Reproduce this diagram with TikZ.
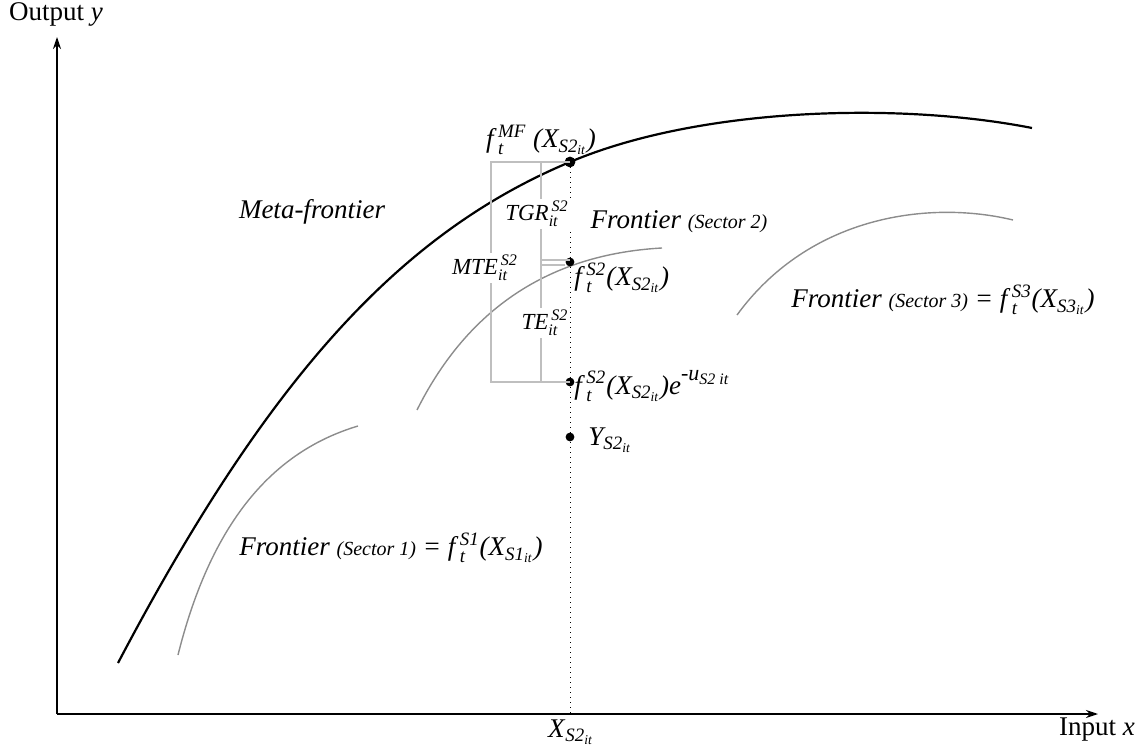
\documentclass[tikz,border=0pt]{standalone}
\usepackage{amsmath}
\usepackage{fontspec}
\setmainfont{Liberation Serif}
\usetikzlibrary{arrows.meta, positioning}
\tikzset{
  axis/.style={draw=black, line width=0.7pt, -{Stealth[length=6pt, width=4pt]}},
  meta/.style={draw=black, line width=1.1pt},
  sect/.style={draw=black!45, line width=0.7pt},
  brk/.style={draw=black!25, line width=0.8pt},
  dot/.style={circle, fill=black, inner sep=0pt, minimum size=4.4pt},
  lbl/.style={font=\fontsize{13.5}{16}\selectfont\itshape, inner sep=1pt},
  eff/.style={font=\fontsize{11.5}{13}\selectfont\itshape, fill=white, inner sep=1pt},
  ax/.style={font=\fontsize{13.5}{16}\selectfont, inner sep=0pt},
}
\newcommand{\sct}[1]{{\fontsize{10}{11}\selectfont(Sector #1)}}
\newcommand{\Xsub}[1]{\textit{X}$_{\text{\itshape S#1}_{\text{\itshape it}}}$}
\newcommand{\fsub}[1]{\textit{f}\,$^{\text{\itshape #1}}_{\text{\itshape t}}$}
\newcommand{\effsub}[1]{#1$^{\,\text{\itshape S2}}_{\text{\itshape it}}$}
\newcommand{\expu}{\textit{e}\raisebox{1.1ex}{\fontsize{11}{12}\selectfont -u\raisebox{-0.35ex}{\fontsize{8}{9}\selectfont S2 it}}}

\begin{document}
\begin{tikzpicture}[x=0.5pt, y=-0.5pt]
  \useasboundingbox (0,0) rectangle (1145,748);
  % axes
  \coordinate (orig) at (57,714);
  \coordinate (ytip) at (57,37);
  \coordinate (xtip) at (1098,714);
  \coordinate (xS2)  at (570,714);
  \draw[axis] (orig) -- (ytip);
  \draw[axis] (orig) -- (xtip);
  \node[ax] (ylab) at (56,14)   {Output \textit{y}};
  \node[ax] (xlab) at (1097,730) {Input \textit{x}};
  \node[ax,font=\fontsize{13.5}{16}\selectfont] (xval) at (571,732) {\Xsub{2}};
  % frontiers
  \draw[meta] (118,663) .. controls (268,378) and (400,233) .. (570,162)
                        .. controls (700,107) and (900,102) .. (1032,128);
  \draw[sect] (178,655) .. controls (213,515) and (278,450) .. (358,426);
  \draw[sect] (417,410) .. controls (477,290) and (572,253) .. (662,248);
  \draw[sect] (737,315) .. controls (810,215) and (930,200) .. (1013,220);
  % points on the vertical
  \node[dot, minimum size=5.4pt] (pMF) at (570,162) {};
  \node[dot] (pS2) at (570,262) {};
  \node[dot] (pE)  at (570,382) {};
  \node[dot] (pY)  at (570,437) {};
  \draw[dotted, line width=0.5pt] (pMF.center) -- (xS2);
  % brackets
  \coordinate (b1) at (541,260);
  \coordinate (b2) at (541,265);
  \draw[brk] (pMF.center) -- (491,162) -- (491,382) -- (pE.center);
  \draw[brk] (541,162) -- (541,382);
  \draw[brk] (b1) -- (b1 -| pS2.center);
  \draw[brk] (b2) -- (b2 -| pS2.west);
  \node[eff] (mte) at (485,268) {\effsub{MTE}};
  \node[eff] (tgr) at (537,214) {\effsub{TGR}};
  \node[eff] (te)  at (545,323) {\effsub{TE}};
  % labels
  \node[lbl] (fMF) at (541,140) {\fsub{MF} (\Xsub{2})};
  \node[lbl] (meta) at (312,212) {Meta-frontier};
  \node[lbl] (fr2) at (679,222) {Frontier \sct{2}};
  \node[lbl, anchor=west] (fS2) at (572,278) {\fsub{S2}(\Xsub{2})};
  \node[lbl, anchor=west] (fE)  at (572,386) {\fsub{S2}(\Xsub{2})\expu};
  \node[lbl, anchor=west] (yS2) at (586,440) {\textit{Y}$_{\text{\itshape S2}_{\text{\itshape it}}}$};
  \node[lbl] (fr1) at (391,548) {Frontier \sct{1} = \fsub{S1}(\Xsub{1})};
  \node[lbl] (fr3) at (943,300) {Frontier \sct{3} = \fsub{S3}(\Xsub{3})};
\end{tikzpicture}
\end{document}
